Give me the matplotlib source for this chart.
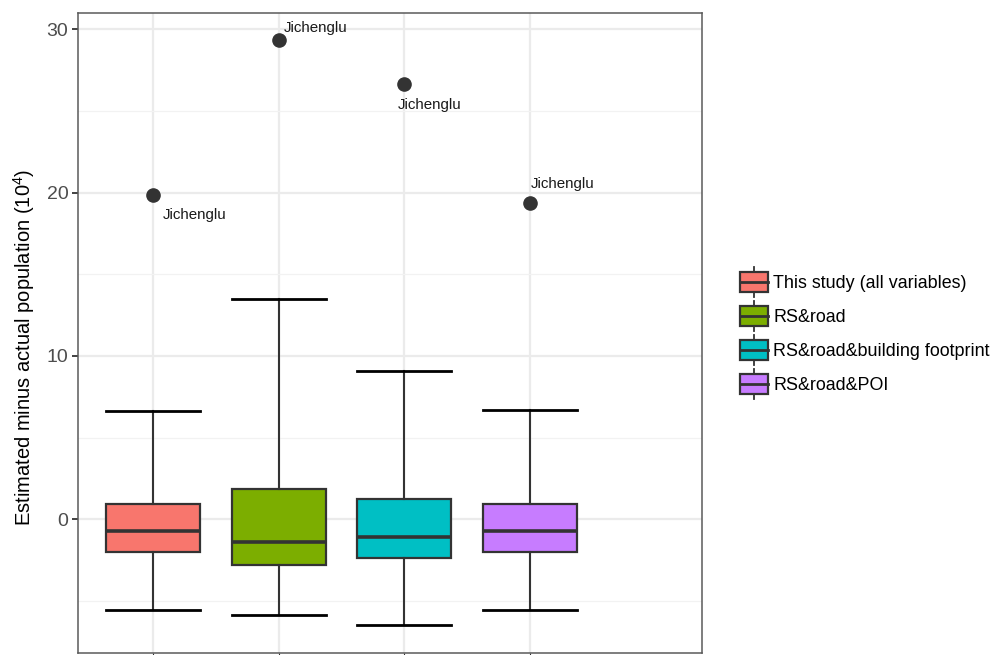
import matplotlib
matplotlib.use("Agg")
import matplotlib.pyplot as plt
from matplotlib.legend_handler import HandlerBase
from matplotlib.patches import Rectangle, Patch
from matplotlib.lines import Line2D
from matplotlib.ticker import MultipleLocator

plt.rcParams['font.family'] = ['Liberation Sans', 'DejaVu Sans']
plt.rcParams['mathtext.fontset'] = 'custom'
plt.rcParams['mathtext.rm'] = 'Liberation Sans'
plt.rcParams['mathtext.default'] = 'regular'

# difference between estimated and actual population (10^4), per model
models = ["This study (all variables)", "RS&road",
          "RS&road&building footprint", "RS&road&POI"]
colors = ["#F8766D", "#7CAE00", "#00BFC4", "#C77CFF"]
whis_lo = [-5.55, -5.87, -6.50, -5.55]
q1 = [-2.01, -2.82, -2.35, -2.01]
median = [-0.70, -1.37, -1.10, -0.70]
q3 = [0.94, 1.86, 1.27, 0.94]
whis_hi = [6.63, 13.47, 9.08, 6.70]
outlier = [19.83, 29.34, 26.64, 19.34]
outlier_name = ["Jichenglu"] * 4
# label offsets from the outlier point (points)
label_offset = [(7, -14), (4, 9), (-5, -15), (1, 14)]

edge = "#333333"

fig = plt.figure(figsize=(9.93, 6.55), dpi=100)
ax = fig.add_axes([78 / 993, 1 - 652.7 / 655, 624 / 993, 640 / 655])

stats = []
for i in range(4):
    stats.append(dict(whislo=whis_lo[i], q1=q1[i], med=median[i], q3=q3[i],
                      whishi=whis_hi[i], fliers=[]))
pos = [1, 2, 3, 4]
bp = ax.bxp(stats, positions=pos, widths=0.75, capwidths=0.75,
            patch_artist=True, showfliers=False,
            boxprops=dict(edgecolor=edge, linewidth=1.6),
            medianprops=dict(color=edge, linewidth=2.6),
            whiskerprops=dict(color=edge, linewidth=1.5),
            capprops=dict(color="black", linewidth=2.0),
            zorder=3)
for patch, c in zip(bp['boxes'], colors):
    patch.set_facecolor(c)

ax.plot(pos, outlier, 'o', color=edge, markersize=9.5, linestyle='none', zorder=4)
for i in range(4):
    dx, dy = label_offset[i]
    ax.annotate(outlier_name[i], (pos[i], outlier[i]), xytext=(dx, dy),
                textcoords='offset points', ha='left', va='center',
                fontsize=10.9, color="#1a1a1a", zorder=5)

ax.set_xlim(0.403, 5.37)
ax.set_ylim(-8.17, 31.02)
ax.set_xticks(pos)
ax.set_xticklabels([])
ax.yaxis.set_major_locator(MultipleLocator(10))
ax.yaxis.set_minor_locator(MultipleLocator(5))
ax.grid(which='major', color="#EBEBEB", linewidth=1.6, zorder=0)
ax.grid(which='minor', axis='y', color="#F2F2F2", linewidth=0.9, zorder=0)
ax.set_axisbelow(True)
ax.tick_params(axis='y', which='major', labelsize=14, labelcolor="#4D4D4D",
               color=edge, length=4, width=1.3, pad=3)
ax.tick_params(axis='both', which='minor', length=0)
ax.tick_params(axis='x', length=4, color=edge)
for s in ax.spines.values():
    s.set_color("#5a5a5a")
    s.set_linewidth(1.1)

fig.text(24 / 993, 1 - 347 / 655, "Estimated minus actual population (10$^{4}$)",
         rotation=90, ha='center', va='center', fontsize=14.5, color="black")


class BoxKey(HandlerBase):
    # boxplot-style legend key: whisker, filled box, median line
    def create_artists(self, legend, orig_handle, xdescent, ydescent,
                       width, height, fontsize, trans):
        x0, y0 = -xdescent, -ydescent
        cx, cy = x0 + width / 2, y0 + height / 2
        bh = 1.1 * fontsize
        wh = 1.65 * fontsize
        whisk = Line2D([cx, cx], [cy - wh / 2, cy + wh / 2], color=edge,
                       lw=1.3, transform=trans)
        box = Rectangle((x0, cy - bh / 2), width, bh,
                        facecolor=orig_handle.get_facecolor(), edgecolor=edge,
                        lw=1.6, transform=trans)
        med = Line2D([x0, x0 + width], [cy, cy], color=edge, lw=2.0,
                     transform=trans)
        return [whisk, box, med]


handles = [Patch(facecolor=c) for c in colors]
fig.legend(handles, models, handler_map={Patch: BoxKey()},
           loc='center left', bbox_to_anchor=(740 / 993, 1 - 333 / 655),
           frameon=False, fontsize=12.9, borderpad=0, borderaxespad=0,
           handlelength=1.56, handleheight=1.7, labelspacing=0.54,
           handletextpad=0.3)

fig.savefig("out.png", dpi=100)
